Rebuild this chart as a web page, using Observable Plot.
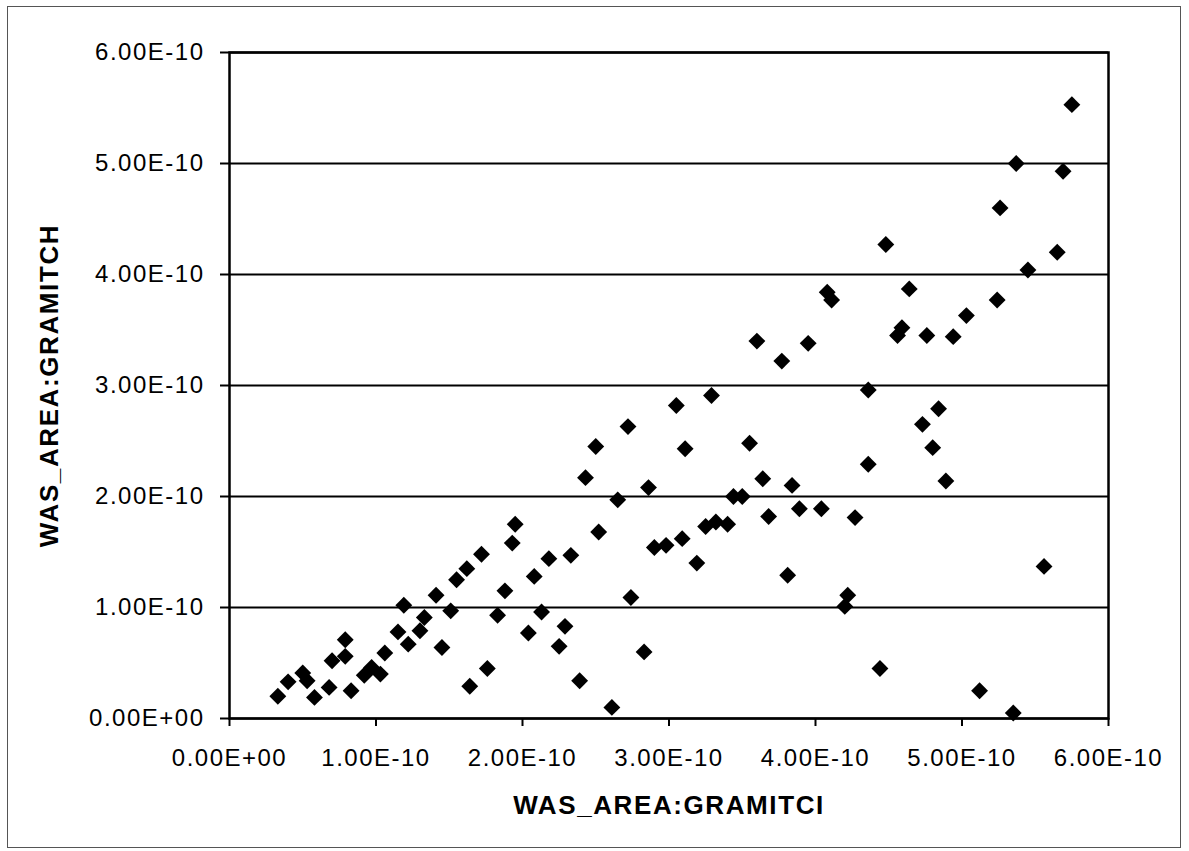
<!DOCTYPE html>
<html>
<head>
<meta charset="utf-8">
<script src="https://cdn.jsdelivr.net/npm/d3@7"></script>
<script src="https://cdn.jsdelivr.net/npm/@observablehq/plot@0.6"></script>
<style>
  html, body { margin: 0; padding: 0; background: #fff; }
  #wrap { position: relative; width: 1189px; height: 851px; overflow: hidden; }
  #outer { position: absolute; left: 7px; top: 6px; width: 1174px; height: 842px; border: 1px solid #555; box-sizing: border-box; pointer-events: none; }
  svg text { font-family: "Liberation Sans", Arial, sans-serif; }
  g[aria-label$="tick label"] text { letter-spacing: 1.5px; }
  g.title text { letter-spacing: 1.6px; }
</style>
</head>
<body>
<div id="wrap"><div id="outer"></div><div id="chart"></div></div>
<script>
// Values in units of 1E-10
const gramitci = [
  0.33,0.40,0.50,0.53,0.58,0.68,0.70,0.79,0.79,0.83,0.92,0.97,1.03,1.06,1.15,1.19,1.22,1.30,1.33,1.41,
  1.45,1.51,1.55,1.62,1.64,1.72,1.76,1.83,1.88,1.93,1.95,2.04,2.08,2.13,2.18,
  4.08,4.11,3.60,3.95,3.77,4.36,3.29,3.05,2.72,2.50,3.11,3.55,4.36,2.43,2.86,3.64,3.84,2.65,3.44,3.50,
  3.68,3.89,4.04,4.27,2.52,3.25,3.32,3.40,3.09,2.90,2.98,2.33,3.19,3.81,2.74,4.22,4.20,2.29,2.25,2.83,
  4.44,2.39,2.61,
  5.75,5.37,5.69,5.26,4.48,5.65,5.45,4.64,5.24,5.03,4.59,4.56,4.76,4.94,4.84,4.73,4.80,4.89,5.56,5.12,5.35
];
const gramitch = [
  0.20,0.33,0.41,0.34,0.19,0.28,0.52,0.56,0.71,0.25,0.39,0.46,0.40,0.59,0.78,1.02,0.67,0.79,0.91,1.11,
  0.64,0.97,1.25,1.35,0.29,1.48,0.45,0.93,1.15,1.58,1.75,0.77,1.28,0.96,1.44,
  3.84,3.77,3.40,3.38,3.22,2.96,2.91,2.82,2.63,2.45,2.43,2.48,2.29,2.17,2.08,2.16,2.10,1.97,2.00,2.00,
  1.82,1.89,1.89,1.81,1.68,1.73,1.77,1.75,1.62,1.54,1.56,1.47,1.40,1.29,1.09,1.11,1.01,0.83,0.65,0.60,
  0.45,0.34,0.10,
  5.53,5.00,4.93,4.60,4.27,4.20,4.04,3.87,3.77,3.63,3.52,3.45,3.45,3.44,2.79,2.65,2.44,2.14,1.37,0.25,0.05
];
const xTicks = [0, 1, 2, 3, 4, 5, 6];
const yTicks = [0, 1, 2, 3, 4, 5, 6];
const xTickLabels = ["0.00E+00","1.00E-10","2.00E-10","3.00E-10","4.00E-10","5.00E-10","6.00E-10"];
const yTickLabels = ["0.00E+00","1.00E-10","2.00E-10","3.00E-10","4.00E-10","5.00E-10","6.00E-10"];
const xTitle = "WAS_AREA:GRAMITCI";
const yTitle = "WAS_AREA:GRAMITCH";

const points = gramitci.map((x, i) => ({x, y: gramitch[i]}));

const chart = Plot.plot({
  width: 1189,
  height: 851,
  marginLeft: 229,
  marginRight: 81,
  marginTop: 52,
  marginBottom: 133,
  style: {background: "transparent", color: "#000"},
  x: {domain: [0, 6]},
  y: {domain: [0, 6]},
  marks: [
    Plot.ruleY(yTicks, {stroke: "#000", strokeWidth: 2}),
    Plot.frame({stroke: "#000", strokeWidth: 2.5}),
    Plot.axisX({
      ticks: xTicks, tickFormat: (d) => xTickLabels[xTicks.indexOf(d)],
      tickSize: 8, tickPadding: 22, fontSize: 24, strokeWidth: 2, label: null
    }),
    Plot.axisY({
      ticks: yTicks, tickFormat: (d) => yTickLabels[yTicks.indexOf(d)],
      tickSize: 9, tickPadding: 16, fontSize: 24, strokeWidth: 2, label: null
    }),
    Plot.dot(points, {x: "x", y: "y", symbol: "diamond2", r: 7.6, fill: "#000", stroke: "none"}),
    Plot.text([xTitle], {frameAnchor: "bottom", dy: 95, fontSize: 26, fontWeight: "bold", text: d => d, className: "title"}),
    Plot.text([yTitle], {frameAnchor: "left", dx: -180, rotate: -90, textAnchor: "middle", fontSize: 26, fontWeight: "bold", text: d => d, className: "title"})
  ]
});
document.getElementById("chart").appendChild(chart);
</script>
</body>
</html>
